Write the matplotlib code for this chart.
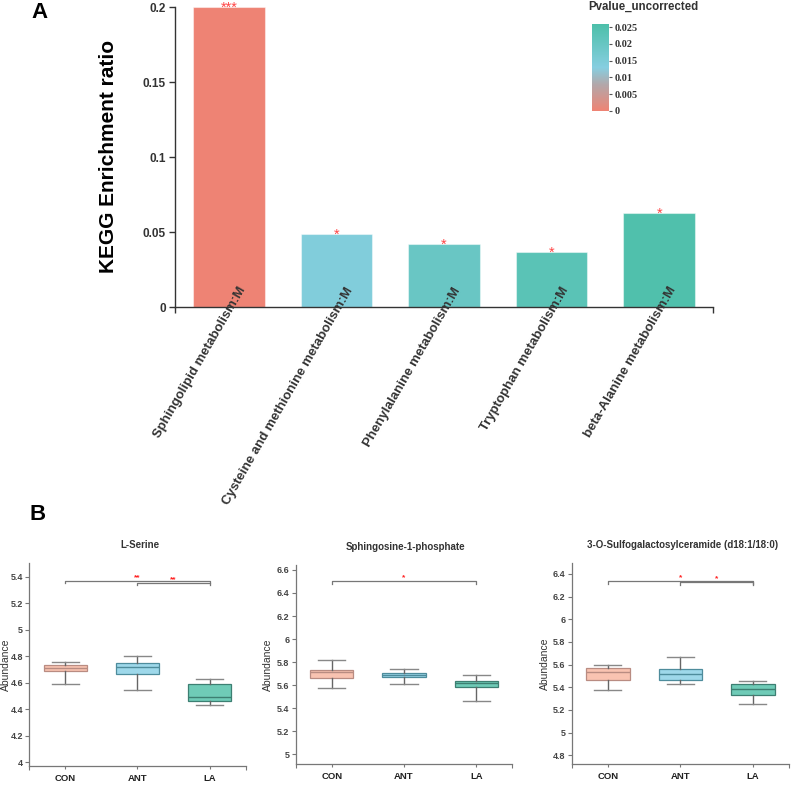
import matplotlib
matplotlib.use('Agg')
import matplotlib.pyplot as plt
import numpy as np
from matplotlib.colors import LinearSegmentedColormap, Normalize
from matplotlib.ticker import FuncFormatter, FixedLocator
import matplotlib.transforms as mtransforms

plt.rcParams['font.family'] = ['Liberation Sans', 'DejaVu Sans']

# ---------------- data ----------------
pathways = ["Sphingolipid metabolism:M",
            "Cysteine and methionine metabolism:M",
            "Phenylalanine metabolism:M",
            "Tryptophan metabolism:M",
            "beta-Alanine metabolism:M"]
ratios = [0.2, 0.0485, 0.0418, 0.0369, 0.0625]
pvalues = [0.0002, 0.0140, 0.0195, 0.0228, 0.0250]
bar_stars = ["***", "*", "*", "*", "*"]
cbar_ticks = [0, 0.005, 0.01, 0.015, 0.02, 0.025]
a_yticks = [0, 0.05, 0.1, 0.15, 0.2]

groups = ["CON", "ANT", "LA"]
titles = ["L-Serine", "Sphingosine-1-phosphate", "3-O-Sulfogalactosylceramide (d18:1/18:0)"]
# whislo, q1, median, q3, whishi per group
serine = [[4.59, 4.687, 4.71, 4.735, 4.755],
          [4.548, 4.668, 4.72, 4.7475, 4.80],
          [4.43, 4.46, 4.4925, 4.59, 4.63]]
s1p = [[5.574, 5.659, 5.718, 5.732, 5.818],
       [5.606, 5.671, 5.691, 5.706, 5.744],
       [5.459, 5.582, 5.618, 5.632, 5.688]]
sulfo = [[5.374, 5.467, 5.533, 5.568, 5.60],
         [5.429, 5.461, 5.519, 5.562, 5.670],
         [5.252, 5.333, 5.383, 5.426, 5.458]]
# significance brackets: (from, to, y, stars)
serine_sig = [(0, 2, 5.37, "**"), (1, 2, 5.355, "**")]
s1p_sig = [(0, 2, 6.505, "*")]
sulfo_sig = [(0, 2, 6.34, "*"), (1, 2, 6.33, "*")]
ylims_b = [(3.972, 5.5), (4.913, 6.643), (4.72, 6.494)]
yticks_b = [[4, 4.2, 4.4, 4.6, 4.8, 5, 5.2, 5.4],
            [5, 5.2, 5.4, 5.6, 5.8, 6, 6.2, 6.4, 6.6],
            [4.8, 5, 5.2, 5.4, 5.6, 5.8, 6, 6.2, 6.4]]

box_fill = ["#F9C3B1", "#9ED8EA", "#6FCBB7"]
box_edge = ["#B98C82", "#4E8C9C", "#3D7F72"]

# ---------------- figure ----------------
W, H = 791, 786
fig = plt.figure(figsize=(W / 100, H / 100), dpi=100)


def px_axes(l, t, r, b):
    return fig.add_axes([l / W, 1 - b / H, (r - l) / W, (b - t) / H])


dark = "#333333"

# ---------------- Panel A ----------------
cmap = LinearSegmentedColormap.from_list(
    "pv", [(0.0, "#EF8373"), (0.3, "#B3A7A9"), (0.5, "#86CEE0"), (1.0, "#4CBFA9")])
norm = Normalize(vmin=0, vmax=0.0259)

axA = px_axes(175, 7, 713, 307)
x = np.arange(len(pathways))
colors = [cmap(norm(p)) for p in pvalues]
axA.bar(x, ratios, width=0.667, color=colors, edgecolor=(1, 1, 1, 0.45), linewidth=0.8, zorder=2)
axA.set_xlim(-0.5, 4.5)
axA.set_ylim(0, 0.2)
for xi, r, s in zip(x, ratios, bar_stars):
    axA.annotate(s, (xi, r), xytext=(0, -3.4), textcoords="offset points",
                 ha="center", va="baseline", color="#FF4545", fontsize=10.5,
                 annotation_clip=False, clip_on=False, zorder=6)

for side in ["top", "right"]:
    axA.spines[side].set_visible(False)
for side in ["left", "bottom"]:
    axA.spines[side].set_color(dark)
    axA.spines[side].set_linewidth(1.0)
axA.yaxis.set_major_locator(FixedLocator(a_yticks))
axA.yaxis.set_major_formatter(FuncFormatter(lambda v, p: f"{v:g}"))
axA.tick_params(axis="y", length=4.5, width=1, color=dark, labelsize=8.5,
                labelcolor=dark, pad=2)
for lab in axA.get_yticklabels():
    lab.set_fontweight("bold")
axA.set_xticks([])
axA.set_xticks([-0.5, 4.5], minor=True)
axA.tick_params(axis="x", which="minor", length=4.5, width=1, color=dark)
offset = mtransforms.ScaledTranslation(0.14, 0.19, fig.dpi_scale_trans)
for xi, name in zip(x, pathways):
    axA.text(xi, 0, name, transform=axA.get_xaxis_transform() + offset,
             rotation=60, ha="right", va="center", rotation_mode="anchor",
             fontsize=9.5, fontweight="bold", color=dark, clip_on=False, zorder=5)

fig.text(109 / W, 1 - 156 / H, "KEGG Enrichment ratio", rotation=90, ha="center",
         va="center", fontsize=15, fontweight="bold", color="black")
fig.text(40 / W, 1 - 12 / H, "A", ha="center", va="center", fontsize=16,
         fontweight="bold", color="black")

# colorbar
cax = px_axes(592, 24, 609, 111)
cb = fig.colorbar(plt.cm.ScalarMappable(norm=norm, cmap=cmap), cax=cax, ticks=cbar_ticks)
cb.outline.set_visible(False)
cb.ax.yaxis.set_major_formatter(FuncFormatter(lambda v, p: f"{v:g}"))
cb.ax.tick_params(length=2.5, width=0.8, color="#555555", labelsize=7.4, pad=1.5,
                  labelcolor=dark)
for lab in cb.ax.get_yticklabels():
    lab.set_fontfamily("Liberation Serif")
    lab.set_fontweight("bold")
fig.text(643 / W, 1 - 7 / H, "Pvalue_uncorrected", ha="center", va="center",
         fontsize=8.3, fontweight="bold", color=dark)

# ---------------- Panel B ----------------
fig.text(38 / W, 1 - 515 / H, "B", ha="center", va="center", fontsize=16,
         fontweight="bold", color="black")

rects = [(29.3, 563.3, 245.7, 766), (295.7, 565, 512.3, 764.3), (571.7, 563.3, 789, 764.3)]
label_right_px = [10.5, 273.3, 550]
datasets = [serine, s1p, sulfo]
sigs = [serine_sig, s1p_sig, sulfo_sig]
title_y = [545, 546.7, 545]
spine_c = "#777777"

for k in range(3):
    l, t, r, b = rects[k]
    ax = px_axes(l, t, r, b)
    stats = []
    for g, d in zip(groups, datasets[k]):
        stats.append(dict(label=g, whislo=d[0], q1=d[1], med=d[2], q3=d[3], whishi=d[4]))
    res = ax.bxp(stats, positions=[0, 1, 2], widths=0.6, patch_artist=True,
                 showfliers=False, capwidths=0.375,
                 whiskerprops=dict(color="#666666", linewidth=1.0),
                 capprops=dict(color="#888888", linewidth=1.0))
    for i, bx in enumerate(res["boxes"]):
        bx.set_facecolor(box_fill[i])
        bx.set_edgecolor(box_edge[i])
        bx.set_linewidth(0.9)
        res["medians"][i].set_color(box_edge[i])
        res["medians"][i].set_linewidth(1.0)
    ylo, yhi = ylims_b[k]
    ax.set_ylim(ylo, yhi)
    ax.set_xlim(-0.5, 2.5)
    dtick = 0.022 * (yhi - ylo) / 1.53
    for (i, j, y, s) in sigs[k]:
        ax.plot([i, i, j, j], [y - dtick, y, y, y - dtick], color="#777777", lw=0.9)
        ax.text((i + j) / 2, y - dtick * 0.2, s, ha="center", va="bottom",
                color="#FF2020", fontsize=6, fontweight="bold")
    for side in ["top", "right"]:
        ax.spines[side].set_visible(False)
    for side in ["left", "bottom"]:
        ax.spines[side].set_color(spine_c)
        ax.spines[side].set_linewidth(0.9)
    ax.set_yticks(yticks_b[k])
    ax.yaxis.set_major_formatter(FuncFormatter(lambda v, p: f"{round(v, 2):g}"))
    ax.tick_params(axis="y", length=3, width=0.8, color=spine_c, labelsize=6.5,
                   labelcolor="#444444", pad=1.5)
    for lab in ax.get_yticklabels():
        lab.set_fontweight("bold")
    ax.set_xticks([0, 1, 2])
    ax.set_xticklabels(groups, fontsize=6.8, fontweight="bold", color="#222222")
    ax.tick_params(axis="x", which="major", length=2.5, width=0.8, color=spine_c, pad=3)
    ax.set_xticks([-0.5, 2.5], minor=True)
    ax.tick_params(axis="x", which="minor", length=3, width=0.8, color=spine_c)
    ax.set_ylabel("Abundance", fontsize=7.5, color="#333333")
    ax.yaxis.set_label_coords((label_right_px[k] - l) / (r - l), 0.5)
    fig.text(((l + r) / 2 + 2) / W, 1 - title_y[k] / H, titles[k], ha="center",
             va="center", fontsize=7, fontweight="bold", color="#333333")

fig.savefig("out.png", dpi=100)
